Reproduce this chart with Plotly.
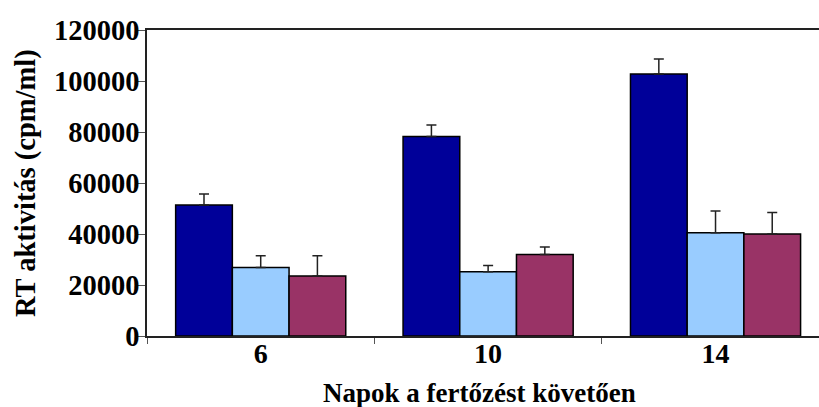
import plotly.graph_objects as go

# Days after infection (categories)
days = ["6", "10", "14"]

# RT activity (cpm/ml) per group, with upper error
series_a = [51400, 78200, 102700]
series_a_err = [4300, 4500, 5900]

series_b = [26900, 25200, 40500]
series_b_err = [4600, 2400, 8500]

series_c = [23500, 32000, 40000]
series_c_err = [8000, 2900, 8400]

y_ticks = [0, 20000, 40000, 60000, 80000, 100000, 120000]

colors = ["#000099", "#99CCFF", "#993366"]
font_family = "Liberation Serif"

fig = go.Figure()
for vals, errs, col in [
    (series_a, series_a_err, colors[0]),
    (series_b, series_b_err, colors[1]),
    (series_c, series_c_err, colors[2]),
]:
    fig.add_trace(go.Bar(
        x=days,
        y=vals,
        marker=dict(color=col, line=dict(color="#000000", width=1.5)),
        error_y=dict(
            type="data",
            symmetric=False,
            array=errs,
            arrayminus=[0] * len(errs),
            color="#222222",
            thickness=1.5,
            width=5,
        ),
        showlegend=False,
    ))

fig.update_layout(
    width=819,
    height=407,
    margin=dict(l=147, r=0, t=30, b=71),
    paper_bgcolor="white",
    plot_bgcolor="white",
    barmode="group",
    bargap=0.252,
    bargroupgap=0,
    font=dict(family=font_family, color="#000000"),
    xaxis=dict(
        type="category",
        range=[-0.5, 2.455],
        showline=True,
        linecolor="#222222",
        linewidth=1.5,
        mirror=True,
        ticks="outside",
        tickson="boundaries",
        ticklen=6,
        tickcolor="#555555",
        tickwidth=1,
        tickfont=dict(family=font_family, size=28, weight="bold", color="#000000"),
        ticklabelstandoff=-8,
        showgrid=False,
        zeroline=False,
    ),
    yaxis=dict(
        range=[0, 120000],
        tickvals=y_ticks,
        ticktext=[str(v) for v in y_ticks],
        showline=True,
        linecolor="#222222",
        linewidth=1.5,
        ticks="outside",
        ticklen=8,
        tickcolor="#555555",
        tickwidth=1,
        tickfont=dict(family=font_family, size=28.5, weight="bold", color="#000000"),
        ticklabelstandoff=-8,
        showgrid=False,
        zeroline=False,
    ),
    annotations=[
        dict(
            text="RT aktivitás (cpm/ml)",
            xref="paper", yref="paper",
            x=(26 - 147) / 672, y=0.5,
            xanchor="center", yanchor="middle",
            textangle=-90,
            showarrow=False,
            font=dict(family=font_family, size=28.5, weight="bold", color="#000000"),
        ),
        dict(
            text="Napok a fertőzést követően",
            xref="paper", yref="paper",
            x=(479 - 147) / 672, y=(336 - 393) / 306,
            xanchor="center", yanchor="middle",
            showarrow=False,
            font=dict(family=font_family, size=27, weight="bold", color="#000000"),
        ),
    ],
)

fig.write_html("out.html")
